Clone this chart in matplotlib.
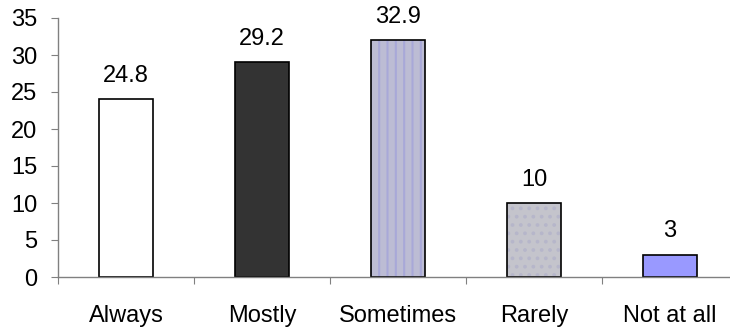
import matplotlib
matplotlib.use("Agg")
import matplotlib.pyplot as plt
import numpy as np

# --- DATA ---
categories = ["Always", "Mostly", "Sometimes", "Rarely", "Not at all"]
bar_heights = [24, 29, 32, 10, 3]
value_labels = ["24.8", "29.2", "32.9", "10", "3"]

plt.rcParams["font.family"] = ["Liberation Sans", "DejaVu Sans"]
plt.rcParams["hatch.linewidth"] = 1.5

fig = plt.figure(figsize=(7.3, 3.29), dpi=100)
ax = fig.add_axes([58 / 730, 52 / 329, 680 / 730, 259 / 329])

x = np.arange(len(categories))
faces = ["white", "#333333", "#bcbcd4", "#c4c4cc", "#9999ff"]
hatches = [None, None, "||", "..", None]
hatch_cols = ["white", "#333333", "#a8a8d8", "#b6b6ca", "#9999ff"]

for i in range(len(categories)):
    # fill + hatch (hatch colour follows edgecolor), then black outline on top
    ax.bar(x[i], bar_heights[i], width=0.4, color=faces[i],
           edgecolor=hatch_cols[i], hatch=hatches[i], linewidth=0)
    ax.bar(x[i], bar_heights[i], width=0.4, fill=False,
           edgecolor="black", linewidth=1.2)
    ax.annotate(value_labels[i], (x[i], bar_heights[i]),
                xytext=(0, 9), textcoords="offset points",
                ha="center", va="bottom", fontsize=17)

# --- FORMATTING ---
ax.set_xlim(-0.5, 4.5)
ax.set_ylim(0, 35)
ax.set_yticks(range(0, 36, 5))
ax.set_xticks(np.arange(-0.5, 5, 1))
ax.set_xticklabels([])
ax.set_xticks(x, minor=True)
ax.set_xticklabels(categories, minor=True)
ax.tick_params(axis="x", which="minor", length=0, pad=20, labelsize=17)
ax.tick_params(axis="x", which="major", length=5, color="#808080", direction="out")
ax.tick_params(axis="y", length=5, color="#808080", pad=10, labelsize=17)

for s in ["top", "right"]:
    ax.spines[s].set_visible(False)
for s in ["left", "bottom"]:
    ax.spines[s].set_color("#808080")
    ax.spines[s].set_linewidth(1.0)

fig.savefig("out.png", dpi=100)
